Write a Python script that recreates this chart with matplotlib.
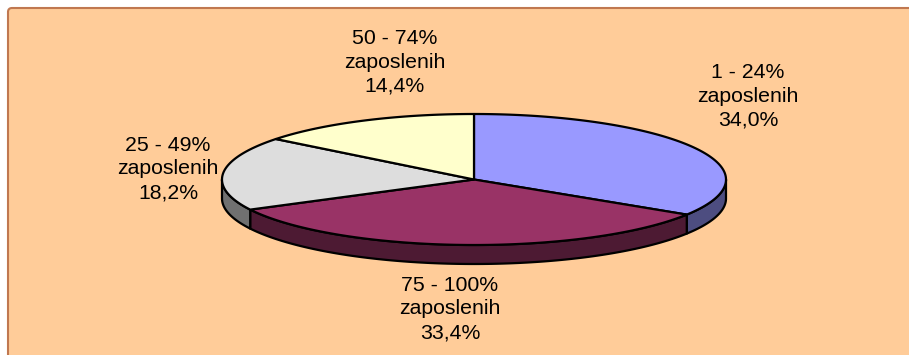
import matplotlib.pyplot as plt
import numpy as np
from matplotlib.patches import Polygon, FancyBboxPatch

plt.rcParams['font.family'] = ['Liberation Sans', 'DejaVu Sans']

# share of companies by percentage of employees
groups = ['1 - 24%', '75 - 100%', '25 - 49%', '50 - 74%']
shares = [34.0, 33.4, 18.2, 14.4]
top_colors = ['#9999FF', '#993366', '#DDDDDD', '#FFFFCC']
side_colors = ['#4D4D80', '#4D1A33', '#707070', '#80806A']
label_pos = [(748, 96), (450, 309), (168, 169), (395, 62)]

# pie geometry in pixels
cx, cy = 474, 179.5
rx, ry = 252, 65.5
depth = 19


def rim(a0, a1, dy=0, n=120):
    t = np.radians(np.linspace(a0, a1, n))
    return np.column_stack([cx + rx * np.cos(t), cy - ry * np.sin(t) + dy])


fig = plt.figure(figsize=(9.09, 3.55), dpi=100)
ax = fig.add_axes([0, 0, 1, 1])
ax.set_xlim(0, 909)
ax.set_ylim(355, 0)
ax.axis('off')

ax.add_patch(FancyBboxPatch((8, 8), 960, 400, boxstyle='round,pad=0,rounding_size=4',
                            fc='#FFCC99', ec='#C07850', lw=1.5, zorder=0))

cum = np.concatenate([[0], np.cumsum(shares)])
starts = 90 - 3.6 * cum[:-1]
ends = 90 - 3.6 * cum[1:]

for i in range(len(shares)):
    # front side wall (visible only in the lower half)
    hi = min(starts[i], 0)
    lo = max(ends[i], -180)
    if hi > lo:
        top = rim(hi, lo)
        bot = rim(lo, hi, dy=depth)
        ax.add_patch(Polygon(np.vstack([top, bot]), closed=True, fc=side_colors[i],
                             ec='black', lw=1.6, joinstyle='round', zorder=1))

for i in range(len(shares)):
    pts = np.vstack([[cx, cy], rim(starts[i], ends[i])])
    ax.add_patch(Polygon(pts, closed=True, fc=top_colors[i], ec='black', lw=1.6,
                         joinstyle='round', zorder=2))

for g, s, (x, y) in zip(groups, shares, label_pos):
    txt = f"{g}\nzaposlenih\n{s:.1f}%".replace('.', ',')
    ax.text(x, y, txt, ha='center', va='center', fontsize=15.3,
            linespacing=1.32, color='black', zorder=3)

fig.savefig('out.png', dpi=100)
